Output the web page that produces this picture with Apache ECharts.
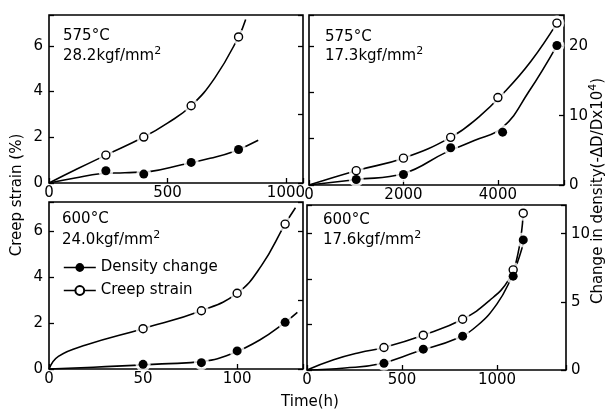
<!DOCTYPE html>
<html><head><meta charset="utf-8">
<script src="https://cdn.jsdelivr.net/npm/echarts@6/dist/echarts.min.js"></script>
<style>html,body{margin:0;padding:0;background:#fff}#c{width:605px;height:412px}</style>
</head><body><div id="c"></div>
<script>
// ---------- data ----------
// Top-left: 575°C, 28.2 kgf/mm2  (x: time h; creep %, density -ΔD/D x10^4)
const tlCreepPts = [[240,1.22],[400,2.01],[600,3.38],[800,6.39]];
const tlDensPts  = [[240,1.78],[400,1.30],[600,3.0],[800,4.88]];
const tlCreepCurve = [[0,0],[120,0.62],[240,1.22],[400,2.01],[500,2.62],[600,3.38],[700,4.6],[800,6.39],[830,7.15]];
const tlDensCurve  = [[0,0],[110,0.72],[215,1.35],[320,1.5],[430,1.7],[560,2.65],[680,3.6],[780,4.6],[883,6.23]];
// Top-right: 575°C, 17.3 kgf/mm2
const trCreepPts = [[1000,0.62],[2000,1.16],[3000,2.06],[4000,3.78],[5250,7.0]];
const trDensPts  = [[1000,0.8],[2000,1.52],[3000,5.37],[4100,7.62],[5250,20.1]];
const trCreepCurve = [[0,0],[1000,0.62],[2000,1.16],[3000,2.06],[3600,2.95],[4150,4.04],[4700,5.35],[5250,7.0]];
const trDensCurve  = [[0,0],[1000,0.78],[2000,1.65],[2900,4.7],[3500,6.4],[4100,8.3],[4650,13.4],[5250,20.1]];
// Bottom-left: 600°C, 24.0 kgf/mm2
const blCreepPts = [[50,1.75],[81,2.53],[100,3.29],[125.5,6.29]];
const blDensPts  = [[50,0.34],[81,0.46],[100,1.31],[125.5,3.38]];
const blCreepCurve = [[0,0],[5,0.55],[20,1.05],[50,1.75],[81,2.53],[100,3.29],[113,4.5],[125.5,6.29],[131,7.0]];
const blDensCurve  = [[0,0],[30,0.17],[60,0.37],[82,0.55],[97,1.1],[112,2.1],[125.5,3.38],[132,4.1]];
// Bottom-right: 600°C, 17.6 kgf/mm2
const brCreepPts = [[405,0.99],[612,1.53],[819,2.23],[1085,4.4],[1138,6.89]];
const brDensPts  = [[405,0.49],[612,1.53],[819,2.48],[1085,6.88],[1138,9.54]];
const brCreepCurve = [[0,0],[140,0.45],[279,0.77],[405,0.99],[612,1.53],[819,2.23],[960,3.05],[1060,3.95],[1110,5.1],[1138,6.89]];
const brDensCurve  = [[0,0],[200,0.15],[379,0.44],[577,1.34],[788,2.31],[900,3.3],[1000,4.85],[1070,6.6],[1115,8.2],[1143,9.54]];

// tick labels
const tlXTicks = [0,500,1000];
const trXTicks = [0,2000,4000];
const blXTicks = [0,50,100];
const brXTicks = [0,500,1000];
const creepTicks = [0,2,4,6];
const densTicksTop = [0,10,20];
const densTicksBottom = [0,5,10];

const seriesNames = ['Density change','Creep strain'];
const panelTitles = [['575°C','28.2'],['575°C','17.3'],['600°C','24.0'],['600°C','17.6']];

// ---------- layout / styling ----------
const FF = 'DejaVu Sans';
const panels = [
  {grid:{left:49,top:15,width:254,height:168}, xMax:1072, xInt:500, xTicks:tlXTicks, cMax:7.35, dMax:24.5, dInt:10, dTicks:densTicksTop, showL:true, showR:false,
   cp:tlCreepPts, dp:tlDensPts, cc:tlCreepCurve, dc:tlDensCurve},
  {grid:{left:309,top:15,width:255,height:170}, xMax:5400, xInt:2000, xTicks:trXTicks, cMax:7.35, dMax:24.5, dInt:10, dTicks:densTicksTop, showL:false, showR:true,
   cp:trCreepPts, dp:trDensPts, cc:trCreepCurve, dc:trDensCurve},
  {grid:{left:49,top:202,width:254,height:167}, xMax:135, xInt:50, xTicks:blXTicks, cMax:7.25, dMax:12.1, dInt:5, dTicks:densTicksBottom, showL:true, showR:false,
   cp:blCreepPts, dp:blDensPts, cc:blCreepCurve, dc:blDensCurve},
  {grid:{left:307,top:205,width:259,height:165}, xMax:1363, xInt:500, xTicks:brXTicks, cMax:7.25, dMax:12.1, dInt:5, dTicks:densTicksBottom, showL:false, showR:true,
   cp:brCreepPts, dp:brDensPts, cc:brCreepCurve, dc:brDensCurve}
];

const grids = [], xAxes = [], yAxes = [], series = [];
const tickStyle = {show:true, inside:true, length:5, lineStyle:{color:'#000', width:1.3}};
const lblBase = {color:'#000', fontSize:15, fontFamily:FF};
panels.forEach((p, i) => {
  grids.push(Object.assign({show:true, borderColor:'#000', borderWidth:1.6, backgroundColor:'transparent', containLabel:false}, p.grid));
  xAxes.push({gridIndex:i, type:'value', min:0, max:p.xMax, interval:p.xInt,
    axisLine:{show:false}, axisTick:tickStyle, splitLine:{show:false},
    axisLabel:Object.assign({margin:3, formatter:v => p.xTicks.includes(v) ? String(v) : ''}, lblBase)});
  yAxes.push({gridIndex:i, type:'value', position:'left', min:0, max:p.cMax, interval:2,
    axisLine:{show:false}, axisTick:tickStyle, splitLine:{show:false},
    axisLabel:Object.assign({show:p.showL, margin:6, formatter:v => creepTicks.includes(v) ? String(v) : ''}, lblBase)});
  yAxes.push({gridIndex:i, type:'value', position:'right', min:0, max:p.dMax, interval:p.dInt,
    axisLine:{show:false}, axisTick:tickStyle, splitLine:{show:false},
    axisLabel:Object.assign({show:p.showR, margin:5, formatter:v => p.dTicks.includes(v) ? String(v) : ''}, lblBase)});
  const common = {xAxisIndex:i, animation:false};
  series.push(Object.assign({type:'line', yAxisIndex:2*i, data:p.cc, smooth:0.45, symbol:'none', silent:true, z:2,
    lineStyle:{color:'#000', width:1.6}}, common));
  series.push(Object.assign({type:'line', yAxisIndex:2*i+1, data:p.dc, smooth:0.45, symbol:'none', silent:true, z:2,
    lineStyle:{color:'#000', width:1.6}}, common));
  series.push(Object.assign({type:'scatter', yAxisIndex:2*i, data:p.cp, symbol:'circle', symbolSize:15, silent:true, z:3,
    itemStyle:{color:'#fff'}}, common));
  series.push(Object.assign({type:'scatter', yAxisIndex:2*i+1, data:p.dp, symbol:'circle', symbolSize:15, silent:true, z:3,
    itemStyle:{color:'#fff'}}, common));
  series.push(Object.assign({type:'line', name:seriesNames[1], yAxisIndex:2*i, data:p.cp, symbol:'circle', symbolSize:8, showSymbol:true, z:4,
    lineStyle:{opacity:0}, itemStyle:{color:'#fff', borderColor:'#000', borderWidth:1.4}}, common));
  series.push(Object.assign({type:'line', name:seriesNames[0], yAxisIndex:2*i+1, data:p.dp, symbol:'circle', symbolSize:9, showSymbol:true, z:4,
    lineStyle:{opacity:0}, itemStyle:{color:'#000', borderColor:'#000', borderWidth:0}}, common));
});

// panel annotations
const annoPos = [[63,36,56],[325,37,56],[62,219,240],[323,220,240]];
const graphic = [];
function txt(x, y, text, extra) {
  return {type:'text', x:x, y:y, silent:true,
    style:Object.assign({text:text, font:'15px "' + FF + '"', fill:'#000',
      textAlign:'left', textVerticalAlign:'middle', align:'left', verticalAlign:'middle'}, extra || {})};
}
const supRich = {a:{fontSize:15, fontFamily:FF, lineHeight:20}, s:{fontSize:11, fontFamily:FF, verticalAlign:'top', lineHeight:13}};
panelTitles.forEach((t, i) => {
  const [x, y1, y2] = annoPos[i];
  graphic.push(txt(x, y1, t[0]));
  graphic.push(txt(x, y2, '{a|' + t[1] + 'kgf/mm}{s|2}', {rich:supRich}));
});
const yl = txt(17, 195, 'Creep strain (%)', {textAlign:'center', align:'center'});
yl.rotation = Math.PI / 2;
graphic.push(yl);
const yr = txt(598, 191, '{a|Change in density(-ΔD/Dx10}{s|4}{a|)}', {textAlign:'center', align:'center', rich:supRich});
yr.rotation = Math.PI / 2;
graphic.push(yr);
graphic.push(txt(310, 402, 'Time(h)', {textAlign:'center', align:'center'}));

const option = {
  backgroundColor:'#fff',
  animation:false,
  grid:grids, xAxis:xAxes, yAxis:yAxes, series:series,
  legend:{orient:'vertical', left:63, top:260, itemWidth:32, itemHeight:11, itemGap:8, padding:0, selectedMode:false,
    data:seriesNames, textStyle:{color:'#000', fontSize:15, fontFamily:FF},
    lineStyle:{color:'#000', width:1.6, opacity:1, type:'solid'}},
  graphic:graphic
};
const chart = echarts.init(document.getElementById('c'), null, {renderer:'canvas'});
chart.setOption(option);
</script></body></html>
